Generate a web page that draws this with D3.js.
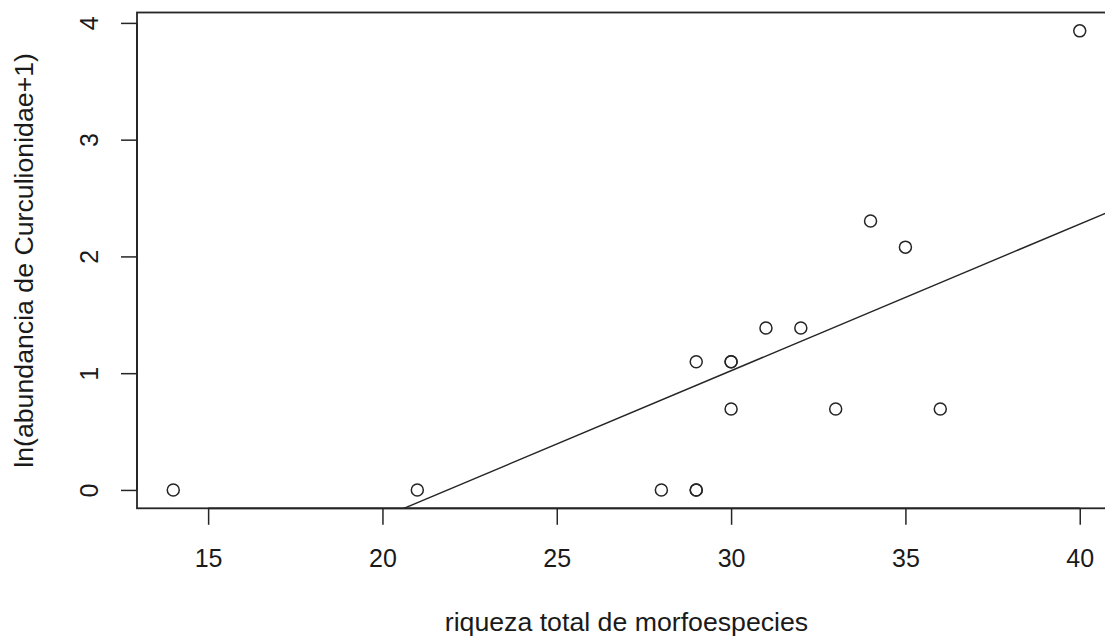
<!DOCTYPE html>
<html>
<head>
<meta charset="utf-8">
<script src="https://cdn.jsdelivr.net/npm/d3@7"></script>
<style>
  html, body { margin: 0; padding: 0; background: #fff; }
  svg { display: block; }
  text { font-family: "Liberation Sans", Arial, Helvetica, sans-serif; fill: #1a1a1a; }
</style>
</head>
<body>
<svg id="chart" width="1105" height="637"></svg>
<script>
// Species richness per sample and ln(Curculionidae abundance + 1)
const riqueza = [14, 21, 28, 29, 29, 29, 30, 30, 30, 31, 32, 33, 34, 35, 36, 40];
const lnAbund = [0, 0, 0, 0, 0, 1.0986, 1.0986, 1.0986, 0.6931, 1.3863, 1.3863, 0.6931, 2.3026, 2.0794, 0.6931, 3.9318];
const xTicks = [15, 20, 25, 30, 35, 40];
const yTicks = [0, 1, 2, 3, 4];
const xTitle = "riqueza total de morfoespecies";
const yTitle = "ln(abundancia de Curculionidae+1)";

const svg = d3.select("#chart");
const plot = { left: 137, top: 12.5, right: 1116, bottom: 508.3 };

// R-style 4% padding around the data range
function padded(vals) {
  const [lo, hi] = d3.extent(vals);
  const p = (hi - lo) * 0.04;
  return [lo - p, hi + p];
}
const x = d3.scaleLinear().domain(padded(riqueza)).range([plot.left, plot.right]);
const y = d3.scaleLinear().domain(padded(lnAbund)).range([plot.bottom, plot.top]);

const ink = "#252525";
const tickFont = 25;
const titleFont = 26.7;

// least-squares fit, lm(lnAbund ~ riqueza)
const mx = d3.mean(riqueza), my = d3.mean(lnAbund);
let sxy = 0, sxx = 0;
riqueza.forEach((v, i) => { sxy += (v - mx) * (lnAbund[i] - my); sxx += (v - mx) * (v - mx); });
const slope = sxy / sxx, intercept = my - slope * mx;

svg.append("clipPath").attr("id", "plotclip")
  .append("rect")
  .attr("x", plot.left).attr("y", plot.top)
  .attr("width", plot.right - plot.left).attr("height", plot.bottom - plot.top);

// regression line across the whole plotting region
const [x0, x1] = x.domain();
svg.append("line")
  .attr("clip-path", "url(#plotclip)")
  .attr("x1", x(x0)).attr("y1", y(intercept + slope * x0))
  .attr("x2", x(x1)).attr("y2", y(intercept + slope * x1))
  .attr("stroke", ink).attr("stroke-width", 1.4);

// points
svg.append("g").selectAll("circle")
  .data(riqueza.map((v, i) => [v, lnAbund[i]]))
  .join("circle")
  .attr("cx", d => x(d[0])).attr("cy", d => y(d[1]))
  .attr("r", 6)
  .attr("fill", "none").attr("stroke", ink).attr("stroke-width", 1.5);

// box
svg.append("rect")
  .attr("x", plot.left).attr("y", plot.top)
  .attr("width", plot.right - plot.left).attr("height", plot.bottom - plot.top)
  .attr("fill", "none").attr("stroke", ink).attr("stroke-width", 1.8);

// x axis
const xAxis = d3.axisBottom(x).tickValues(xTicks).tickSize(16.5).tickFormat(d3.format("d"));
const gx = svg.append("g").attr("transform", `translate(0,${plot.bottom})`).call(xAxis);
gx.select(".domain")
  .attr("d", `M${x(xTicks[0])},0H${x(xTicks[xTicks.length - 1])}`)
  .attr("stroke", ink).attr("stroke-width", 1.8);
gx.selectAll(".tick line").attr("stroke", ink).attr("stroke-width", 1.5);
gx.selectAll(".tick text")
  .attr("font-size", tickFont).attr("fill", "#1a1a1a")
  .attr("dy", null).attr("y", 58.7)
  .attr("font-family", "'Liberation Sans', Arial, sans-serif");

// y axis, labels turned parallel to the axis
const yAxis = d3.axisLeft(y).tickValues(yTicks).tickSize(16).tickFormat(d3.format("d"));
const gy = svg.append("g").attr("transform", `translate(${plot.left},0)`).call(yAxis);
gy.select(".domain")
  .attr("d", `M0,${y(yTicks[0])}V${y(yTicks[yTicks.length - 1])}`)
  .attr("stroke", ink).attr("stroke-width", 1.8);
gy.selectAll(".tick line").attr("stroke", ink).attr("stroke-width", 1.5);
gy.selectAll(".tick text")
  .attr("font-size", tickFont).attr("fill", "#1a1a1a")
  .attr("font-family", "'Liberation Sans', Arial, sans-serif")
  .attr("x", null).attr("dy", null)
  .attr("text-anchor", "middle")
  .attr("transform", "translate(-39,0) rotate(-90)");

// axis titles
svg.append("text")
  .attr("x", (plot.left + plot.right) / 2).attr("y", 631)
  .attr("text-anchor", "middle").attr("font-size", titleFont)
  .text(xTitle);

svg.append("text")
  .attr("transform", `translate(33.3,${(plot.top + plot.bottom) / 2}) rotate(-90)`)
  .attr("text-anchor", "middle").attr("font-size", titleFont)
  .text(yTitle);
</script>
</body>
</html>
